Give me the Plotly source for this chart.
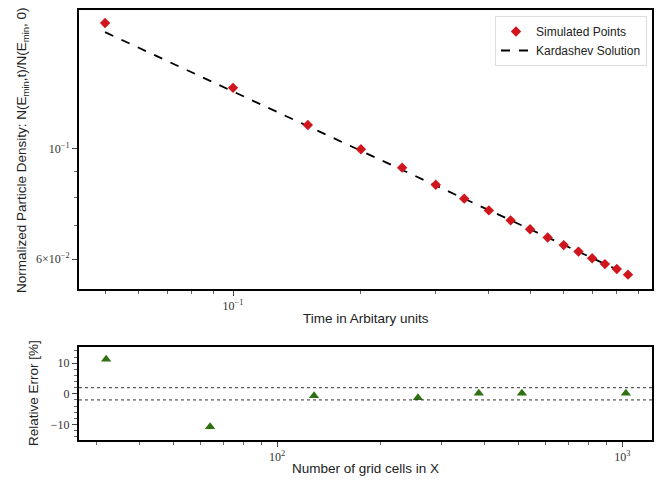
import plotly.graph_objects as go

# ---- data ----
time_t = [0.05, 0.10, 0.15, 0.20, 0.25, 0.30, 0.35, 0.40, 0.45, 0.50,
          0.55, 0.60, 0.65, 0.70, 0.75, 0.80, 0.85]
sim_density = [0.1795, 0.1328, 0.1118, 0.0999, 0.0917, 0.0847, 0.0794, 0.0752,
               0.0718, 0.0689, 0.0663, 0.0640, 0.0621, 0.0602, 0.0586, 0.0573, 0.0558]
kardashev_density = [0.1720, 0.1306, 0.1112, 0.0992, 0.0908, 0.0844, 0.0794, 0.0754,
                     0.0718, 0.0690, 0.0663, 0.0641, 0.0621, 0.0603, 0.0587, 0.0572, 0.0558]

grid_cells = [32, 64, 128, 256, 384, 512, 1024]
rel_error = [11.3, -10.8, -0.6, -1.3, 0.2, 0.2, 0.2]
error_band = [2.0, -2.0]

top_y_ticks = [0.06, 0.1]
top_y_ticktext = ["6\u00d710<sup>\u22122</sup>", "10<sup>\u22121</sup>"]
top_y_minor = [0.07, 0.08, 0.09]
top_x_ticks = [0.1]
top_x_ticktext = ["10<sup>\u22121</sup>"]
top_x_minor = [0.05, 0.06, 0.07, 0.08, 0.09, 0.2, 0.3, 0.4, 0.5, 0.6, 0.7, 0.8, 0.9]
bot_x_ticks = [100, 1000]
bot_x_ticktext = ["10<sup>2</sup>", "10<sup>3</sup>"]
bot_x_minor = [30, 40, 50, 60, 70, 80, 90, 200, 300, 400, 500, 600, 700, 800, 900]
bot_y_ticks = [-10, 0, 10]
bot_y_ticktext = ["\u221210", "0", "10"]

W, H = 657, 480
SERIF = "Liberation Serif, Times New Roman, serif"
SANS = "Liberation Sans, Arial, Helvetica, sans-serif"

fig = go.Figure()
fig.add_trace(go.Scatter(
    x=time_t, y=kardashev_density, mode="lines", name="Kardashev Solution",
    line=dict(color="black", width=1.8, dash="dash"), xaxis="x", yaxis="y",
    legendrank=2))
fig.add_trace(go.Scatter(
    x=time_t, y=sim_density, mode="markers", name="Simulated Points",
    marker=dict(symbol="diamond", size=8, color="#d0161c"), xaxis="x", yaxis="y",
    legendrank=1))
fig.add_trace(go.Scatter(
    x=grid_cells, y=rel_error, mode="markers", showlegend=False,
    marker=dict(symbol="triangle-up", size=9, color="#2f7010"), xaxis="x2", yaxis="y2"))

for yv in error_band:
    fig.add_shape(type="line", xref="x2 domain", x0=0, x1=1, yref="y2", y0=yv, y1=yv,
                  line=dict(color="#333333", width=1, dash="dot"))

xdom = [79 / W, 652 / W]
axis_common = dict(showline=True, linecolor="black", linewidth=2, mirror=True,
                   ticks="outside", ticklen=5, tickcolor="#444", tickwidth=1,
                   showgrid=False, zeroline=False,
                   tickfont=dict(family=SERIF, size=12, color="#333"))
minor_common = dict(ticks="outside", ticklen=3, tickcolor="#666", tickwidth=1, showgrid=False)

fig.update_layout(
    width=W, height=H, margin=dict(l=0, r=0, t=0, b=0),
    paper_bgcolor="white", plot_bgcolor="white",
    xaxis=dict(type="log", domain=xdom, anchor="y",
               range=[-1.3624, -0.0141], tickmode="array",
               tickvals=top_x_ticks, ticktext=top_x_ticktext,
               minor=dict(tickmode="array", tickvals=top_x_minor, **minor_common),
               **axis_common),
    yaxis=dict(type="log", domain=[1 - 289 / H, 1 - 10 / H], anchor="x",
               range=[-1.2823, -0.7198], tickmode="array",
               tickvals=top_y_ticks, ticktext=top_y_ticktext,
               minor=dict(tickmode="array", tickvals=top_y_minor, **minor_common),
               **axis_common),
    xaxis2=dict(type="log", domain=xdom, anchor="y2",
                range=[1.4266, 3.086], tickmode="array",
                tickvals=bot_x_ticks, ticktext=bot_x_ticktext,
                minor=dict(tickmode="array", tickvals=bot_x_minor, **minor_common),
                **axis_common),
    yaxis2=dict(domain=[1 - 440 / H, 1 - 346.7 / H], anchor="x2",
                range=[-15.1, 15.4], tickmode="array",
                tickvals=bot_y_ticks, ticktext=bot_y_ticktext,
                minor=dict(tickmode="linear", tick0=0, dtick=2, **minor_common),
                **axis_common),
    legend=dict(x=647 / W, xanchor="right", y=1 - 16 / H, yanchor="top",
                bgcolor="white", bordercolor="#dddddd", borderwidth=1,
                font=dict(family=SANS, size=12, color="#222"),
                tracegroupgap=0, itemwidth=30),
    showlegend=True,
)

title_font = dict(family=SANS, size=13.5, color="#222")
fig.add_annotation(text="Time in Arbitary units", xref="paper", yref="paper",
                   x=(79 + 652) / 2 / W, y=1 - 318 / H, showarrow=False, font=title_font,
                   xanchor="center", yanchor="middle")
fig.add_annotation(text="Normalized Particle Density: N(E<sub>min</sub>,t)/N(E<sub>min</sub>, 0)",
                   xref="paper", yref="paper", x=22 / W, y=1 - 150 / H, showarrow=False,
                   font=title_font, textangle=-90, xanchor="center", yanchor="middle")
fig.add_annotation(text="Number of grid cells in X", xref="paper", yref="paper",
                   x=(79 + 652) / 2 / W, y=1 - 468 / H, showarrow=False, font=title_font,
                   xanchor="center", yanchor="middle")
fig.add_annotation(text="Relative Error [%]", xref="paper", yref="paper",
                   x=33 / W, y=1 - 393 / H, showarrow=False, font=title_font,
                   textangle=-90, xanchor="center", yanchor="middle")

fig.write_html("out.html")
